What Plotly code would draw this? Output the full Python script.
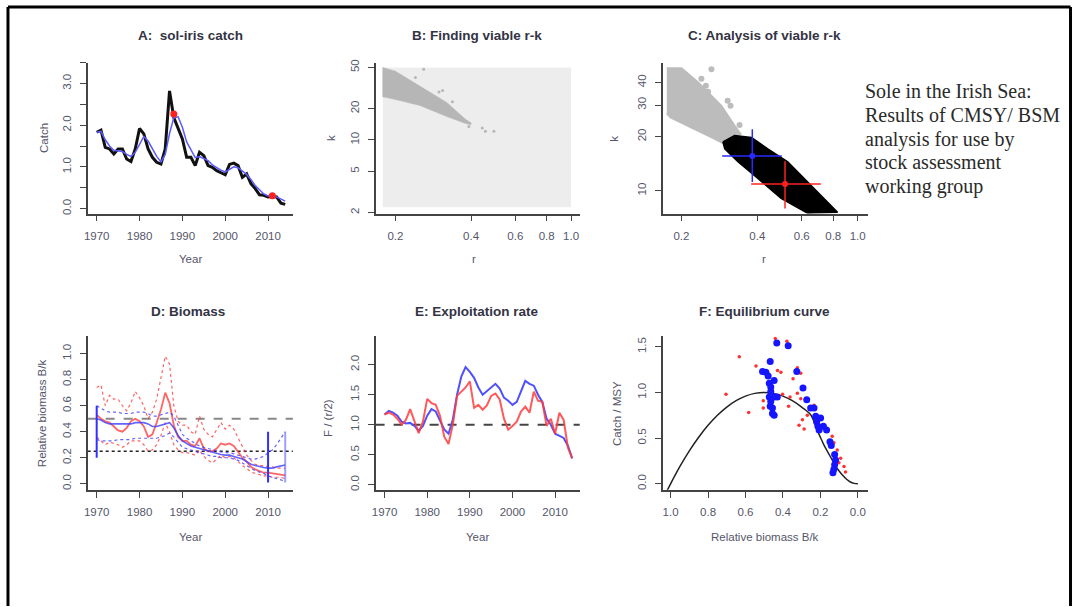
import plotly.graph_objects as go

W, H = 1073, 607

# ---------------- DATA ----------------
years = list(range(1970, 2015))

# A: catch
catch = [1.83, 1.88, 1.47, 1.43, 1.31, 1.43, 1.43, 1.19, 1.13, 1.43, 1.92, 1.79, 1.43, 1.23, 1.11,
         1.07, 1.43, 2.82, 2.18, 1.94, 1.67, 1.23, 1.23, 1.03, 1.35, 1.27, 1.03, 0.99, 0.91, 0.86,
         0.81, 1.06, 1.09, 1.03, 0.75, 0.83, 0.60, 0.48, 0.33, 0.32, 0.28, 0.29, 0.28, 0.13, 0.10]
catch_smooth = [1.83, 1.85, 1.65, 1.50, 1.40, 1.38, 1.37, 1.30, 1.25, 1.35, 1.55, 1.73, 1.62, 1.45, 1.25,
                1.12, 1.30, 1.80, 2.18, 2.20, 1.95, 1.60, 1.40, 1.22, 1.25, 1.20, 1.15, 1.05, 0.98, 0.92,
                0.88, 0.95, 1.00, 0.98, 0.90, 0.82, 0.70, 0.55, 0.45, 0.35, 0.30, 0.30, 0.28, 0.22, 0.18]
catch_marker_years = [1988, 2011]
catch_marker_vals = [2.27, 0.31]

# B: prior r-k space and viable band
prior_r = [0.178, 1.0, 1.0, 0.178, 0.178]
prior_k = [2.25, 2.25, 50, 50, 2.25]
viable_band_r = [0.178, 0.20, 0.25, 0.32, 0.38, 0.40, 0.40, 0.38, 0.32, 0.25, 0.20, 0.178, 0.178]
viable_band_k = [50, 46, 33, 23, 15.8, 14.6, 14.0, 14.4, 16.8, 21.5, 24.5, 26, 50]
viable_pts_r = [0.24, 0.259, 0.298, 0.308, 0.337, 0.392, 0.443, 0.456, 0.493]
viable_pts_k = [40, 48, 29, 30, 23.3, 13.5, 13, 12.1, 12.1]

# C: CMSY viable (grey) and BSM (black) r-k clouds
cmsy_cloud_r = [0.175, 0.20, 0.233, 0.288, 0.325, 0.343, 0.32, 0.297, 0.27, 0.219, 0.181, 0.175]
cmsy_cloud_k = [48, 48, 40, 29.7, 23, 20.7, 19.5, 18.2, 19.5, 22.6, 25.6, 27]
cmsy_pts_r = [0.263, 0.24, 0.25, 0.255, 0.313, 0.34, 0.305]
cmsy_pts_k = [47.4, 42, 38.4, 35.6, 29.7, 23.2, 31.7]
bsm_cloud_r = [0.292, 0.325, 0.379, 0.44, 0.528, 0.673, 0.80, 0.832, 0.633, 0.497, 0.402, 0.335, 0.297, 0.292]
bsm_cloud_k = [18.7, 20.3, 19.8, 17.1, 14.5, 10.3, 8.0, 7.6, 7.5, 9.07, 11.7, 14.5, 17.1, 18.7]
bsm_r_est, bsm_r_lo, bsm_r_hi = 0.382, 0.29, 0.50
bsm_k_est, bsm_k_lo, bsm_k_hi = 15.6, 11.2, 22.0
cmsy_r_est, cmsy_r_lo, cmsy_r_hi = 0.515, 0.378, 0.714
cmsy_k_est, cmsy_k_lo, cmsy_k_hi = 10.9, 7.96, 14.6

# D: relative biomass
cmsy_bk = [0.53, 0.50, 0.48, 0.47, 0.44, 0.41, 0.40, 0.43, 0.48, 0.50, 0.48, 0.44, 0.36, 0.38, 0.47,
           0.57, 0.70, 0.62, 0.45, 0.36, 0.33, 0.33, 0.30, 0.29, 0.35, 0.27, 0.25, 0.25, 0.27, 0.31,
           0.30, 0.31, 0.29, 0.24, 0.20, 0.17, 0.13, 0.11, 0.10, 0.085, 0.085, 0.08, 0.08, 0.07, 0.065]
cmsy_bk_hi = [0.74, 0.76, 0.60, 0.68, 0.65, 0.65, 0.60, 0.56, 0.62, 0.71, 0.66, 0.60, 0.50, 0.55, 0.65,
              0.82, 0.98, 0.92, 0.60, 0.48, 0.45, 0.45, 0.40, 0.38, 0.52, 0.42, 0.38, 0.36, 0.42, 0.47,
              0.42, 0.45, 0.42, 0.35, 0.28, 0.22, 0.18, 0.15, 0.14, 0.14, 0.13, 0.13, 0.12, 0.12, 0.12]
cmsy_bk_lo = [0.36, 0.33, 0.30, 0.32, 0.31, 0.30, 0.28, 0.30, 0.33, 0.33, 0.33, 0.30, 0.25, 0.26, 0.30,
              0.37, 0.47, 0.40, 0.30, 0.26, 0.24, 0.24, 0.23, 0.22, 0.26, 0.21, 0.18, 0.16, 0.19, 0.22,
              0.20, 0.21, 0.20, 0.17, 0.14, 0.12, 0.09, 0.08, 0.07, 0.06, 0.06, 0.05, 0.05, 0.05, 0.04]
bsm_bk = [0.50, 0.49, 0.47, 0.46, 0.46, 0.46, 0.46, 0.46, 0.46, 0.47, 0.47, 0.47, 0.46, 0.44, 0.44,
          0.45, 0.46, 0.47, 0.43, 0.37, 0.33, 0.31, 0.29, 0.28, 0.27, 0.26, 0.25, 0.24, 0.23, 0.225,
          0.22, 0.22, 0.21, 0.20, 0.19, 0.17, 0.15, 0.14, 0.13, 0.125, 0.12, 0.12, 0.13, 0.14, 0.145]
bsm_bk_hi = [0.60, 0.58, 0.56, 0.55, 0.55, 0.55, 0.54, 0.54, 0.54, 0.55, 0.55, 0.55, 0.54, 0.52, 0.52,
             0.53, 0.54, 0.55, 0.52, 0.45, 0.38, 0.35, 0.33, 0.31, 0.29, 0.28, 0.27, 0.26, 0.25, 0.245,
             0.24, 0.24, 0.23, 0.22, 0.21, 0.20, 0.19, 0.19, 0.20, 0.21, 0.24, 0.26, 0.30, 0.35, 0.40]
bsm_bk_lo = [0.34, 0.33, 0.33, 0.33, 0.33, 0.34, 0.34, 0.34, 0.34, 0.35, 0.35, 0.35, 0.35, 0.35, 0.35,
             0.36, 0.37, 0.39, 0.36, 0.32, 0.28, 0.27, 0.26, 0.25, 0.24, 0.23, 0.22, 0.21, 0.21, 0.20,
             0.20, 0.20, 0.19, 0.18, 0.16, 0.14, 0.12, 0.10, 0.09, 0.08, 0.06, 0.05, 0.04, 0.03, 0.02]
prior_bar_years = [1970, 2010, 2014]
prior_bar_lo = [0.20, 0.01, 0.01]
prior_bar_hi = [0.60, 0.40, 0.40]
bk_half = 0.5
bk_quarter = 0.25

# E: exploitation rate F/(r/2)
cmsy_f = [1.17, 1.20, 1.17, 1.10, 1.00, 1.08, 1.26, 1.05, 0.86, 1.05, 1.43, 1.36, 1.33, 1.15, 0.80,
          0.68, 1.00, 1.48, 1.55, 1.62, 1.72, 1.28, 1.33, 1.25, 1.32, 1.48, 1.52, 1.42, 1.10, 0.92,
          0.98, 1.05, 1.22, 1.30, 1.20, 1.55, 1.40, 1.38, 0.98, 1.10, 0.85, 1.20, 1.08, 0.62, 0.44]
bsm_f = [1.17, 1.23, 1.20, 1.15, 1.05, 1.02, 1.03, 0.98, 0.90, 0.98, 1.15, 1.26, 1.22, 1.08, 0.92,
         0.85, 1.08, 1.50, 1.80, 1.96, 1.88, 1.78, 1.62, 1.50, 1.56, 1.63, 1.68, 1.60, 1.45, 1.40,
         1.33, 1.38, 1.55, 1.73, 1.68, 1.65, 1.50, 1.38, 1.10, 1.00, 0.85, 0.82, 0.78, 0.65, 0.44]
f_ref = 1.0

# F: equilibrium curve and points
eq_b = [1.02, 1.0, 0.95, 0.9, 0.85, 0.8, 0.75, 0.7, 0.65, 0.6, 0.55, 0.5, 0.45, 0.4, 0.35, 0.3,
        0.25, 0.22, 0.2, 0.18, 0.15, 0.12, 0.1, 0.08, 0.06, 0.04, 0.02, 0.0]
eq_c = [-0.08, 0.0, 0.19, 0.36, 0.51, 0.64, 0.75, 0.84, 0.91, 0.96, 0.99, 1.0, 0.99, 0.96, 0.91, 0.84,
        0.75, 0.60, 0.51, 0.42, 0.31, 0.20, 0.14, 0.09, 0.05, 0.02, 0.005, 0.0]
bsm_pts_b = [0.433, 0.372, 0.468, 0.509, 0.491, 0.479, 0.447, 0.473, 0.465, 0.326, 0.293, 0.273,
             0.473, 0.447, 0.43, 0.465, 0.468, 0.456, 0.456, 0.447, 0.252, 0.234, 0.225, 0.22,
             0.213, 0.207, 0.199, 0.184, 0.167, 0.149, 0.142, 0.124, 0.119, 0.124, 0.128, 0.133, 0.465]
bsm_pts_c = [1.54, 1.51, 1.34, 1.23, 1.22, 1.18, 1.13, 1.10, 1.06, 1.23, 1.05, 0.92,
             0.95, 0.95, 0.95, 0.90, 0.85, 0.83, 0.77, 0.75, 0.83, 0.83, 0.74, 0.68,
             0.63, 0.59, 0.72, 0.63, 0.59, 0.46, 0.42, 0.32, 0.26, 0.21, 0.16, 0.12, 1.01]
cmsy_pts_b = [0.441, 0.379, 0.633, 0.544, 0.411, 0.323, 0.346, 0.305, 0.704, 0.505, 0.505, 0.583,
              0.402, 0.362, 0.37, 0.323, 0.305, 0.296, 0.314, 0.287, 0.27, 0.234, 0.216, 0.128,
              0.074, 0.092, 0.101, 0.066, 0.11, 0.137, 0.429]
cmsy_pts_c = [1.59, 1.56, 1.39, 1.29, 1.22, 1.27, 1.15, 1.21, 0.98, 0.91, 0.83, 0.78,
              0.98, 0.95, 0.85, 0.99, 0.93, 0.70, 0.64, 0.60, 0.75, 0.86, 0.63, 0.45,
              0.19, 0.28, 0.23, 0.13, 0.37, 0.52, 1.24]

side_text = ["Sole in the Irish Sea:", "Results of CMSY/ BSM", "analysis for use by",
             "stock assessment", "working group"]

# ---------------- LAYOUT HELPERS ----------------
def xd(a, b):
    return [a / W, b / W]

def yd(top, bottom):
    return [1 - bottom / H, 1 - top / H]

TICKFONT = dict(family="Liberation Sans, Arial", size=11.5, color="#55566a")
AXCOL = "#444444"

def xstyle(dom, anchor, **kw):
    d = dict(domain=dom, anchor=anchor, showline=True, linecolor=AXCOL, linewidth=1.5,
             ticks="outside", ticklen=6, tickwidth=1.2, tickcolor=AXCOL, showgrid=False,
             zeroline=False, tickfont=TICKFONT, ticklabelstandoff=5)
    d.update(kw)
    return d

def ystyle(dom, anchor, **kw):
    d = dict(domain=dom, anchor=anchor, showline=True, linecolor=AXCOL, linewidth=1.5,
             ticks="outside", ticklen=6, tickwidth=1.2, tickcolor=AXCOL, showgrid=False,
             zeroline=False, tickfont=TICKFONT, tickangle=-90, ticklabelstandoff=4)
    d.update(kw)
    return d

fig = go.Figure()

# ---- A ----
fig.add_trace(go.Scatter(x=years, y=catch, mode="lines", line=dict(color="#111111", width=3),
                         xaxis="x", yaxis="y"))
fig.add_trace(go.Scatter(x=years, y=catch_smooth, mode="lines", line=dict(color="#5b5bff", width=1.5),
                         xaxis="x", yaxis="y"))
fig.add_trace(go.Scatter(x=catch_marker_years, y=catch_marker_vals, mode="markers",
                         marker=dict(color="#ff2020", size=7), xaxis="x", yaxis="y"))

# ---- B ----
fig.add_trace(go.Scatter(x=prior_r, y=prior_k, mode="lines", fill="toself", fillcolor="#ededed",
                         line=dict(width=0, color="#ededed"), xaxis="x2", yaxis="y2"))
fig.add_trace(go.Scatter(x=viable_band_r, y=viable_band_k, mode="lines", fill="toself",
                         fillcolor="#b6b6b6", line=dict(width=0.5, color="#b6b6b6"),
                         xaxis="x2", yaxis="y2"))
fig.add_trace(go.Scatter(x=viable_pts_r, y=viable_pts_k, mode="markers",
                         marker=dict(color="#b6b6b6", size=3), xaxis="x2", yaxis="y2"))

# ---- C ----
fig.add_trace(go.Scatter(x=cmsy_cloud_r, y=cmsy_cloud_k, mode="lines", fill="toself",
                         fillcolor="#bcbcbc", line=dict(width=2, color="#bcbcbc"),
                         xaxis="x3", yaxis="y3"))
fig.add_trace(go.Scatter(x=cmsy_pts_r, y=cmsy_pts_k, mode="markers",
                         marker=dict(color="#bcbcbc", size=6), xaxis="x3", yaxis="y3"))
fig.add_trace(go.Scatter(x=bsm_cloud_r, y=bsm_cloud_k, mode="lines", fill="toself",
                         fillcolor="#000000", line=dict(width=1.5, color="#000000"),
                         xaxis="x3", yaxis="y3"))
fig.add_trace(go.Scatter(x=[bsm_r_lo, bsm_r_hi, None, bsm_r_est, bsm_r_est],
                         y=[bsm_k_est, bsm_k_est, None, bsm_k_lo, bsm_k_hi], mode="lines",
                         line=dict(color="#2a2aff", width=1.5), xaxis="x3", yaxis="y3"))
fig.add_trace(go.Scatter(x=[bsm_r_est], y=[bsm_k_est], mode="markers",
                         marker=dict(color="#2a2aff", size=6), xaxis="x3", yaxis="y3"))
fig.add_trace(go.Scatter(x=[cmsy_r_lo, cmsy_r_hi, None, cmsy_r_est, cmsy_r_est],
                         y=[cmsy_k_est, cmsy_k_est, None, cmsy_k_lo, cmsy_k_hi], mode="lines",
                         line=dict(color="#ff2020", width=1.5), xaxis="x3", yaxis="y3"))
fig.add_trace(go.Scatter(x=[cmsy_r_est], y=[cmsy_k_est], mode="markers",
                         marker=dict(color="#ff2020", size=6), xaxis="x3", yaxis="y3"))

# ---- D ----
fig.add_trace(go.Scatter(x=[1967.9, 2015.8], y=[bk_half, bk_half], mode="lines",
                         line=dict(color="#888888", width=2, dash="dash"), xaxis="x4", yaxis="y4"))
fig.add_trace(go.Scatter(x=[1967.9, 2015.8], y=[bk_quarter, bk_quarter], mode="lines",
                         line=dict(color="#222222", width=1.3, dash="dot"), xaxis="x4", yaxis="y4"))
for ser, dash, w in [(cmsy_bk_hi, "dot", 1.2), (cmsy_bk_lo, "dot", 1.2), (cmsy_bk, "solid", 1.8)]:
    fig.add_trace(go.Scatter(x=years, y=ser, mode="lines",
                             line=dict(color="rgba(255,50,50,0.75)", width=w, dash=dash),
                             xaxis="x4", yaxis="y4"))
for ser, dash, w in [(bsm_bk_hi, "dot", 1.2), (bsm_bk_lo, "dot", 1.2), (bsm_bk, "solid", 1.6)]:
    fig.add_trace(go.Scatter(x=years, y=ser, mode="lines",
                             line=dict(color="rgba(60,60,255,0.8)", width=w, dash=dash),
                             xaxis="x4", yaxis="y4"))
bx, by = [], []
for yr, lo, hi in zip(prior_bar_years[:2], prior_bar_lo[:2], prior_bar_hi[:2]):
    bx += [yr, yr, None]
    by += [lo, hi, None]
fig.add_trace(go.Scatter(x=bx, y=by, mode="lines", line=dict(color="#3030ff", width=2),
                         xaxis="x4", yaxis="y4"))
fig.add_trace(go.Scatter(x=[prior_bar_years[2]] * 2, y=[prior_bar_lo[2], prior_bar_hi[2]],
                         mode="lines", line=dict(color="rgba(80,80,255,0.55)", width=2),
                         xaxis="x4", yaxis="y4"))

# ---- E ----
fig.add_trace(go.Scatter(x=[1967.9, 2015.8], y=[f_ref, f_ref], mode="lines",
                         line=dict(color="#444444", width=2, dash="dash"), xaxis="x5", yaxis="y5"))
fig.add_trace(go.Scatter(x=years, y=bsm_f, mode="lines", line=dict(color="#5050ff", width=2),
                         xaxis="x5", yaxis="y5"))
fig.add_trace(go.Scatter(x=years, y=cmsy_f, mode="lines",
                         line=dict(color="rgba(255,60,60,0.85)", width=2), xaxis="x5", yaxis="y5"))

# ---- F ----
fig.add_trace(go.Scatter(x=eq_b, y=eq_c, mode="lines", line=dict(color="#222222", width=1.5, shape="spline"),
                         xaxis="x6", yaxis="y6"))
fig.add_trace(go.Scatter(x=cmsy_pts_b, y=cmsy_pts_c, mode="markers",
                         marker=dict(color="#ff3030", size=3.5), xaxis="x6", yaxis="y6"))
fig.add_trace(go.Scatter(x=bsm_pts_b, y=bsm_pts_c, mode="markers",
                         marker=dict(color="#1515ff", size=7), xaxis="x6", yaxis="y6"))

yr_ticks = [1970, 1980, 1990, 2000, 2010]
layout = dict(
    width=W, height=H, margin=dict(l=0, r=0, t=0, b=0), showlegend=False,
    plot_bgcolor="white", paper_bgcolor="white",
    xaxis=xstyle(xd(84, 290), "y", range=[1967.9, 2015.8], tickvals=yr_ticks),
    yaxis=ystyle(yd(60, 212), "x", range=[-0.12, 3.5],
                 tickvals=[0, 0.5, 1, 1.5, 2, 2.5, 3, 3.5],
                 ticktext=["0.0", "", "1.0", "", "2.0", "", "3.0", ""]),
    xaxis2=xstyle(xd(373, 578), "y2", type="log", range=[-0.778, 0.035],
                  tickvals=[0.2, 0.4, 0.6, 0.8, 1.0], ticktext=["0.2", "0.4", "0.6", "0.8", "1.0"]),
    yaxis2=ystyle(yd(60, 212), "x2", type="log", range=[0.29, 1.745],
                  tickvals=[2, 5, 10, 20, 50], ticktext=["2", "5", "10", "20", "50"]),
    xaxis3=xstyle(xd(661, 867), "y3", type="log", range=[-0.774, 0.040],
                  tickvals=[0.2, 0.4, 0.6, 0.8, 1.0], ticktext=["0.2", "0.4", "0.6", "0.8", "1.0"]),
    yaxis3=ystyle(yd(60, 212), "x3", type="log", range=[0.873, 1.713],
                  tickvals=[10, 20, 30, 40], ticktext=["10", "20", "30", "40"]),
    xaxis4=xstyle(xd(84, 290), "y4", range=[1967.9, 2015.8], tickvals=yr_ticks),
    yaxis4=ystyle(yd(335, 490), "x4", range=[-0.046, 1.137],
                  tickvals=[0, 0.2, 0.4, 0.6, 0.8, 1.0],
                  ticktext=["0.0", "0.2", "0.4", "0.6", "0.8", "1.0"]),
    xaxis5=xstyle(xd(373, 578), "y5", range=[1967.9, 2015.8], tickvals=yr_ticks),
    yaxis5=ystyle(yd(335, 490), "x5", range=[-0.083, 2.48],
                  tickvals=[0, 0.5, 1, 1.5, 2], ticktext=["0.0", "0.5", "1.0", "1.5", "2.0"]),
    xaxis6=xstyle(xd(661, 867), "y6", range=[1.043, -0.053],
                  tickvals=[1.0, 0.8, 0.6, 0.4, 0.2, 0.0],
                  ticktext=["1.0", "0.8", "0.6", "0.4", "0.2", "0.0"]),
    yaxis6=ystyle(yd(335, 490), "x6", range=[-0.065, 1.62],
                  tickvals=[0, 0.5, 1, 1.5], ticktext=["0.0", "0.5", "1.0", "1.5"]),
)
fig.update_layout(**layout)

ann = []
def ptxt(x, y, text, size=11, color="#55566a", bold=False, angle=0, family="Liberation Sans, Arial",
         xanchor="center"):
    t = f"<b>{text}</b>" if bold else text
    ann.append(dict(x=x / W, y=1 - y / H, xref="paper", yref="paper", text=t, showarrow=False,
                    xanchor=xanchor, yanchor="middle", textangle=angle,
                    font=dict(size=size, color=color, family=family)))

titles = [(187, 33, "A:  sol-iris catch"), (475, 33, "B: Finding viable r-k"),
          (763, 33, "C: Analysis of viable r-k"), (185, 311, "D: Biomass"),
          (475, 311, "E: Exploitation rate"), (763, 311, "F: Equilibrium curve")]
for x, y, t in titles:
    ptxt(x, y, t, size=13.5, color="#333344", bold=True)

xlabels = [(187, 258, "Year"), (472, 258, "r"), (763, 258, "r"),
           (187, 538, "Year"), (475, 538, "Year"), (764, 538, "Relative biomass B/k")]
for x, y, t in xlabels:
    ptxt(x, y, t, size=11.5)
ylabels = [(40, 136, "Catch"), (328, 136, "k"), (612, 137, "k"),
           (38, 413, "Relative biomass B/k"), (325, 418, "F / (r/2)"), (616, 413, "Catch / MSY")]
for x, y, t in ylabels:
    ptxt(x, y, t, size=11.5, angle=-90)

side_y = [89, 113, 137, 160, 185]
for yy, line in zip(side_y, side_text):
    ptxt(862, yy, line, size=20, color="#2a2a2a", family="Liberation Serif, Times New Roman",
         xanchor="left")
fig.update_layout(annotations=ann)

# outer frame
shapes = []
for x0, y0, x1, y1 in [(4, 4, 4, 607), (4, 4, 1070.5, 4), (1070.5, 4, 1070.5, 607)]:
    shapes.append(dict(type="line", xref="paper", yref="paper", x0=x0 / W, y0=1 - y0 / H,
                       x1=x1 / W, y1=1 - y1 / H, line=dict(color="black", width=3)))
fig.update_layout(shapes=shapes)

fig.write_html("out.html", config={"displayModeBar": False},
               post_script="document.body.style.margin='0';document.body.style.padding='0';"
                           "document.documentElement.style.overflow='hidden';")
